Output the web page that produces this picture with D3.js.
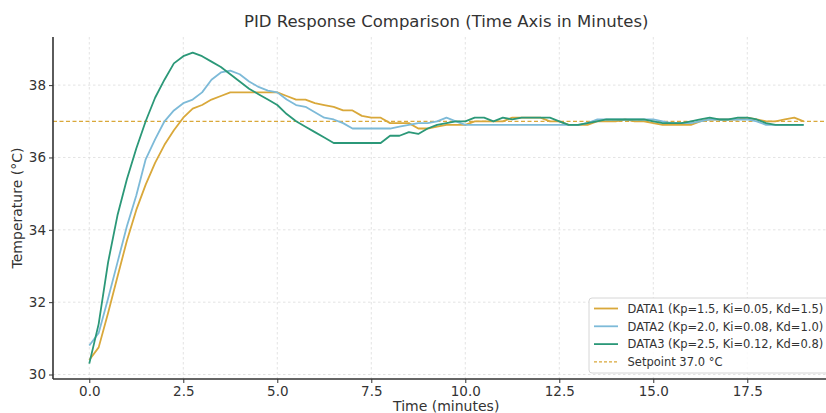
<!DOCTYPE html>
<html><head><meta charset="utf-8">
<script src="https://cdn.jsdelivr.net/npm/d3@7"></script>
<style>
html,body{margin:0;padding:0;background:#fff;overflow:hidden;}
svg{display:block;font-family:"DejaVu Sans",sans-serif;}
</style></head>
<body><svg id="chart" width="826" height="413"></svg>
<script>
const timeMin = [0,0.25,0.5,0.75,1,1.25,1.5,1.75,2,2.25,2.5,2.75,3,3.25,3.5,3.75,4,4.25,4.5,4.75,5,5.25,5.5,5.75,6,6.25,6.5,6.75,7,7.25,7.5,7.75,8,8.25,8.5,8.75,9,9.25,9.5,9.75,10,10.25,10.5,10.75,11,11.25,11.5,11.75,12,12.25,12.5,12.75,13,13.25,13.5,13.75,14,14.25,14.5,14.75,15,15.25,15.5,15.75,16,16.25,16.5,16.75,17,17.25,17.5,17.75,18,18.25,18.5,18.75,19];

const data1 = [30.4,30.75,31.7,32.7,33.7,34.55,35.25,35.85,36.35,36.75,37.1,37.35,37.45,37.6,37.7,37.8,37.8,37.8,37.8,37.8,37.8,37.7,37.6,37.6,37.5,37.45,37.4,37.3,37.3,37.15,37.1,37.1,36.95,36.95,36.95,36.8,36.8,36.85,36.9,36.9,36.9,37.0,37.0,37.0,37.0,37.1,37.1,37.1,37.1,37.0,37.0,36.9,36.9,36.9,37.0,37.0,37.0,37.05,37.0,37.0,36.95,36.9,36.9,36.9,36.9,37.0,37.05,37.05,37.05,37.05,37.1,37.05,37.0,37.0,37.05,37.1,37.0];

const data2 = [30.8,31.15,32.1,33.1,34.1,34.95,35.95,36.5,37.0,37.3,37.5,37.6,37.8,38.15,38.35,38.4,38.3,38.1,37.95,37.85,37.8,37.6,37.45,37.4,37.25,37.1,37.05,36.95,36.8,36.8,36.8,36.8,36.8,36.85,36.9,36.95,36.95,37.0,37.1,37.0,36.9,36.9,36.9,36.9,36.9,36.9,36.9,36.9,36.9,36.9,36.9,36.9,36.9,36.95,37.05,37.05,37.05,37.05,37.05,37.05,37.05,37.0,36.95,36.95,36.95,37.0,37.05,37.05,37.05,37.05,37.05,37.0,36.9,36.9,36.9,36.9,36.9];

const data3 = [30.3,31.4,33.1,34.4,35.4,36.25,37.0,37.65,38.15,38.6,38.8,38.9,38.8,38.65,38.5,38.3,38.1,37.9,37.75,37.6,37.45,37.2,37.0,36.85,36.7,36.55,36.4,36.4,36.4,36.4,36.4,36.4,36.6,36.6,36.7,36.65,36.8,36.9,36.95,37.0,37.0,37.1,37.1,37.0,37.1,37.05,37.1,37.1,37.1,37.1,37.0,36.9,36.9,36.95,37.0,37.05,37.05,37.05,37.05,37.05,37.0,36.95,36.95,36.95,37.0,37.05,37.1,37.05,37.05,37.1,37.1,37.05,36.95,36.9,36.9,36.9,36.9];

const setpoint = 37.0;
const xTicks = [0,2.5,5,7.5,10,12.5,15,17.5];
const yTicks = [30,32,34,36,38];
const seriesNames = ["DATA1 (Kp=1.5, Ki=0.05, Kd=1.5)","DATA2 (Kp=2.0, Ki=0.08, Kd=1.0)","DATA3 (Kp=2.5, Ki=0.12, Kd=0.8)"];
const setpointLabel = "Setpoint 37.0 °C";
const colors = ["#d9a83a","#7dbad8","#2b9878"];
const title = "PID Response Comparison (Time Axis in Minutes)";
const xLabel = "Time (minutes)";
const yLabel = "Temperature (°C)";

const svg = d3.select("#chart");
const L = 53, R = 839.4, T = 37, B = 379;
const x = d3.scaleLinear().domain([-0.965, 19.95]).range([L, R]);
const y = d3.scaleLinear().domain([29.876, 39.33]).range([B, T]);

// grid
const grid = svg.append("g");
grid.selectAll("line.vx").data(xTicks).join("line")
  .attr("x1", d => x(d)).attr("x2", d => x(d)).attr("y1", T).attr("y2", B)
  .attr("stroke", "#dcdcdc").attr("stroke-width", 0.8).attr("stroke-dasharray", "2.5,2.5");
grid.selectAll("line.hy").data(yTicks).join("line")
  .attr("y1", d => y(d)).attr("y2", d => y(d)).attr("x1", L).attr("x2", R)
  .attr("stroke", "#dcdcdc").attr("stroke-width", 0.8).attr("stroke-dasharray", "2.5,2.5");

// setpoint
svg.append("line").attr("x1", L).attr("x2", R).attr("y1", y(setpoint)).attr("y2", y(setpoint))
  .attr("stroke", colors[0]).attr("stroke-width", 1.2).attr("stroke-dasharray", "4,2.5");

const line = d3.line().x((d, i) => x(timeMin[i])).y(d => y(d));
[data1, data2, data3].forEach((s, k) => {
  svg.append("path").datum(s).attr("d", line).attr("fill", "none")
    .attr("stroke", colors[k]).attr("stroke-width", 1.8).attr("stroke-linejoin", "round");
});

// axes
const xAxis = svg.append("g").attr("transform", `translate(0,${B})`)
  .call(d3.axisBottom(x).tickValues(xTicks).tickFormat(d3.format(".1f")).tickSize(4).tickPadding(3));
const yAxis = svg.append("g").attr("transform", `translate(${L},0)`)
  .call(d3.axisLeft(y).tickValues(yTicks).tickFormat(d3.format("d")).tickSize(4).tickPadding(3));
[xAxis, yAxis].forEach(a => {
  a.select(".domain").attr("stroke", "#333").attr("stroke-width", 1.6);
  a.selectAll(".tick line").attr("stroke", "#333").attr("stroke-width", 1);
  a.selectAll(".tick text").attr("fill", "#333").style("font-size", "13.5px").style("font-family", "DejaVu Sans");
});
xAxis.select(".domain").attr("d", `M${L},0H${R}`);
yAxis.select(".domain").attr("d", `M0,${B}V${T}`);

svg.append("text").attr("x", (L + R) / 2).attr("y", 27).attr("text-anchor", "middle")
  .style("font-size", "16.5px").attr("fill", "#333").text(title);
svg.append("text").attr("x", (L + R) / 2).attr("y", 411).attr("text-anchor", "middle")
  .style("font-size", "14px").attr("fill", "#333").text(xLabel);
svg.append("text").attr("transform", `translate(22,${(T + B) / 2}) rotate(-90)`).attr("text-anchor", "middle")
  .style("font-size", "14px").attr("fill", "#333").text(yLabel);

// legend
const lg = svg.append("g").attr("transform", "translate(589,298)");
lg.append("rect").attr("x", 0).attr("y", 0).attr("width", 260).attr("height", 75).attr("rx", 3)
  .attr("fill", "#fff").attr("fill-opacity", 0.85).attr("stroke", "#d6d6d6");
const items = seriesNames.map((n, i) => ({name: n, color: colors[i], dash: null, w: 1.8}))
  .concat([{name: setpointLabel, color: colors[0], dash: "3,2", w: 1.1}]);
items.forEach((it, i) => {
  const yy = 10.5 + i * 17.8;
  lg.append("line").attr("x1", 5).attr("x2", 29).attr("y1", yy).attr("y2", yy)
    .attr("stroke", it.color).attr("stroke-width", it.w).attr("stroke-dasharray", it.dash);
  lg.append("text").attr("x", 38.5).attr("y", yy + 4.3).style("font-size", "11.5px").attr("fill", "#333").text(it.name);
});
</script></body></html>
